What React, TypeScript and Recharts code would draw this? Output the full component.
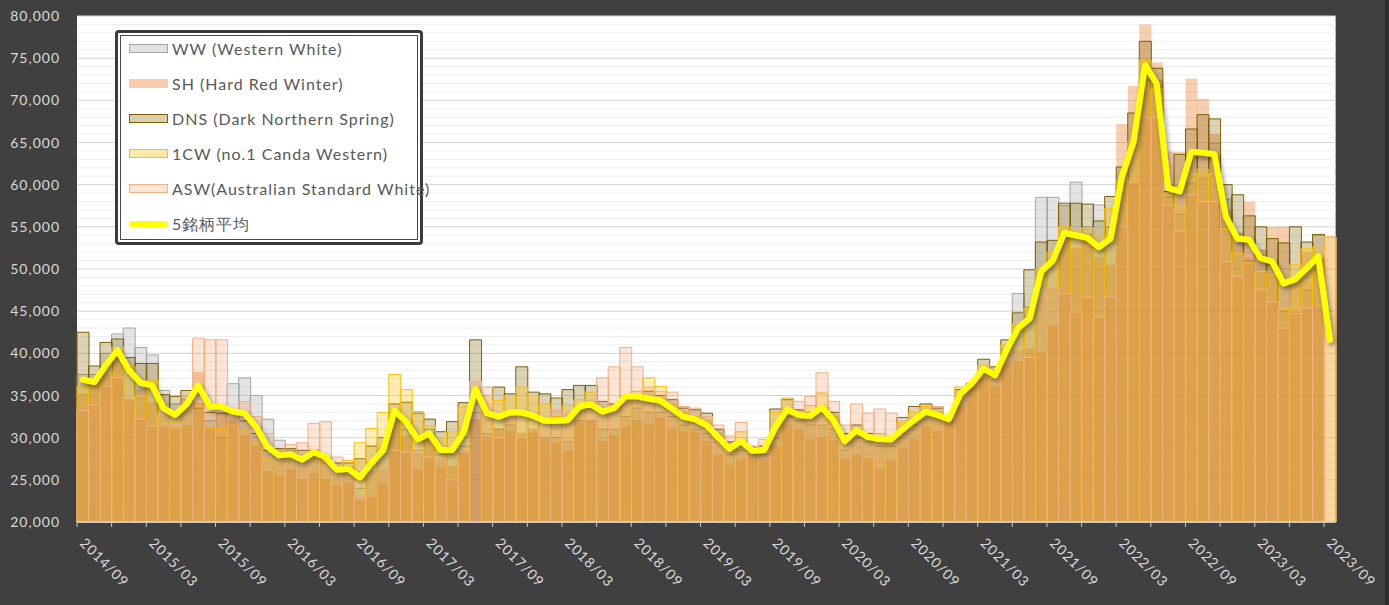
import React from 'react';
import { ComposedChart, Bar, Line, XAxis, YAxis, CartesianGrid } from 'recharts';

const MONTHS = [
  '2014/09','2014/10','2014/11','2014/12',
  '2015/01','2015/02','2015/03','2015/04','2015/05','2015/06','2015/07','2015/08','2015/09','2015/10','2015/11','2015/12',
  '2016/01','2016/02','2016/03','2016/04','2016/05','2016/06','2016/07','2016/08','2016/09','2016/10','2016/11','2016/12',
  '2017/01','2017/02','2017/03','2017/04','2017/05','2017/06','2017/07','2017/08','2017/09','2017/10','2017/11','2017/12',
  '2018/01','2018/02','2018/03','2018/04','2018/05','2018/06','2018/07','2018/08','2018/09','2018/10','2018/11','2018/12',
  '2019/01','2019/02','2019/03','2019/04','2019/05','2019/06','2019/07','2019/08','2019/09','2019/10','2019/11','2019/12',
  '2020/01','2020/02','2020/03','2020/04','2020/05','2020/06','2020/07','2020/08','2020/09','2020/10','2020/11','2020/12',
  '2021/01','2021/02','2021/03','2021/04','2021/05','2021/06','2021/07','2021/08','2021/09','2021/10','2021/11','2021/12',
  '2022/01','2022/02','2022/03','2022/04','2022/05','2022/06','2022/07','2022/08','2022/09','2022/10','2022/11','2022/12',
  '2023/01','2023/02','2023/03','2023/04','2023/05','2023/06','2023/07','2023/08','2023/09',
];

const WW = [
  37500,37500,40000,42300,43000,40700,39800,35600,34000,34500,34000,32000,30000,36400,37100,35000,
  32200,29700,28500,27500,28000,27000,26500,26500,24000,26000,28500,33000,31000,28500,31000,28000,
  28500,29000,33000,30500,31000,31500,30000,31000,30000,30000,29500,32000,32000,31000,31000,32500,
  33500,33000,33000,32500,31500,31000,30500,29500,28000,28500,28000,28000,30000,32500,32000,31500,
  31500,31000,28500,30000,29500,29000,29000,30500,31500,33000,32500,32000,35000,36450,38000,37500,
  40500,47100,45500,58500,58500,57500,60300,55000,57600,55000,60300,59800,72400,72300,58500,56500,
  60200,60700,64900,58300,54200,51000,52200,50500,45000,44800,47500,54000,null,
];
const SH = [
  35200,36600,37600,40200,34400,35800,34200,31300,31100,31500,37800,31000,33000,32100,30300,29000,
  26000,25600,26300,25100,25800,25100,24300,24700,22600,22900,24600,33000,30300,26200,30200,26550,
  26650,28200,32200,30000,31100,30800,30600,30600,29800,29500,28500,31800,31900,29600,30300,31300,
  32100,31650,32400,31100,30800,30700,29600,28000,26800,27500,27950,27450,29100,31550,30900,29800,
  30000,29700,27500,28000,27600,26350,27300,28800,29800,31300,30800,32000,33800,36450,37100,36100,
  38900,39100,40550,40100,43300,54100,52500,54200,51400,50500,67200,71700,79000,74500,63900,63900,
  72600,70200,66000,57000,54000,58000,52000,55000,55000,49000,52000,51100,null,
];
const DNS = [
  42500,38500,41300,41700,39500,38800,38800,35100,34900,35600,33500,33000,32900,33000,32000,30500,
  28500,28700,28700,28500,28500,27500,27000,27000,27500,29000,30000,34000,34200,32900,32200,30700,
  31900,34150,41600,33000,36000,35200,38400,35400,35200,34700,35700,36200,36200,34300,34000,35000,
  35000,35500,35000,34500,33500,33300,32900,31000,29500,29500,28800,29000,33400,34500,33300,33000,
  33500,33000,30500,31500,30500,30000,30000,32400,33700,34000,33500,32300,35700,36400,39300,38400,
  41600,44800,49900,53200,53400,57800,57800,57700,55700,58600,62100,68500,77000,73800,59200,63600,
  66600,68300,67800,60000,58800,56300,55000,53600,53100,55000,53200,54100,null,
];
const CW = [
  36100,36500,38000,40700,38400,35000,36800,32800,32000,33500,34000,31100,31100,31500,30800,29500,
  27500,27000,27500,26500,27500,27000,25500,27300,29400,31100,33000,37500,35700,33100,31400,30000,
  30700,33650,null,35000,34400,35000,36000,35000,34000,32500,33800,34500,35400,33500,33800,35000,
  35500,37100,36100,34000,33000,32500,32000,30500,29000,30700,28500,28500,33000,34700,33000,33800,
  35300,32500,30000,31000,30000,30500,29800,31800,33000,33700,33000,32500,36000,36400,38600,38000,
  41000,43500,45300,50000,52000,55000,54500,54900,54000,57200,60400,65100,74700,71400,58800,57500,
  61300,61800,61300,54800,51900,50700,49700,49300,45400,50500,52400,52600,53800,
];
const ASW = [
  33200,33900,36100,37100,34700,32200,31400,32700,31500,34900,41800,41600,41600,32500,34300,32500,
  30500,28500,29200,29400,31700,31900,27700,26000,23000,26000,26400,28500,28300,28300,27700,27500,
  25000,28500,36700,36000,30000,32500,30000,31000,31000,33300,33000,34000,34500,37100,38400,40700,
  38400,36000,35500,35400,33700,33500,32500,31500,30200,31800,29000,29800,31000,33500,34300,34900,
  37700,34300,31500,34000,32900,33400,32900,31500,32500,33500,33700,32200,35500,36500,38000,37000,
  40000,40500,39500,46700,47800,47100,44900,46700,44300,46700,55000,60400,67900,68000,57600,54500,
  58800,58000,58000,50900,49100,51500,47600,46100,43000,44700,45400,45700,53800,
];
const AVG = [
  36900,36600,38600,40400,38000,36500,36200,33500,32700,34000,36200,33700,33700,33100,32900,31300,
  28900,27900,28050,27400,28300,27700,26200,26300,25300,27000,28500,33200,31900,29800,30500,28550,
  28550,30700,35800,32900,32500,33000,33000,32600,32000,32000,32100,33700,34000,33100,33500,34900,
  34900,34650,34400,33500,32500,32200,31500,30100,28700,29600,28450,28550,31300,33350,32700,32600,
  33600,32100,29600,30900,30100,29850,29800,31000,32100,33100,32700,32200,35200,36450,38200,37400,
  40400,43000,44150,49700,51000,54300,54000,53700,52600,53600,61000,65100,74200,72000,59600,59200,
  63900,63800,63600,56200,53600,53500,51300,50900,48300,48800,50100,51500,41600,
];

const X_LABELS = [
  '2014/09','2015/03','2015/09','2016/03','2016/09','2017/03','2017/09','2018/03','2018/09','2019/03',
  '2019/09','2020/03','2020/09','2021/03','2021/09','2022/03','2022/09','2023/03','2023/09',
];
const Y_TICKS = [20000,25000,30000,35000,40000,45000,50000,55000,60000,65000,70000,75000,80000];
const Y_MINOR = [
  21000,22000,23000,24000,26000,27000,28000,29000,31000,32000,33000,34000,36000,37000,38000,39000,
  41000,42000,43000,44000,46000,47000,48000,49000,51000,52000,53000,54000,56000,57000,58000,59000,
  61000,62000,63000,64000,66000,67000,68000,69000,71000,72000,73000,74000,76000,77000,78000,79000,
];

const SERIES = [
  { key: 'ww', name: 'WW (Western White)', fill: '#a5a5a5', op: 0.3, stroke: '#a6a6a6', sw: '#e2e2e2' },
  { key: 'sh', name: 'SH (Hard Red Winter)', fill: '#ed7d31', op: 0.38, stroke: 'none', sw: '#f8cbad' },
  { key: 'dns', name: 'DNS (Dark Northern Spring)', fill: '#7f6000', op: 0.28, stroke: '#7f6000', sw: '#d9cfb2' },
  { key: 'cw', name: '1CW (no.1 Canda Western)', fill: '#ffc000', op: 0.28, stroke: '#ffc000', sw: '#ffe9a6' },
  { key: 'asw', name: 'ASW(Australian Standard White)', fill: '#ed7d31', op: 0.2, stroke: '#f4b183', sw: '#fbe5d6' },
];
const AVG_NAME = '5銘柄平均';

const DATA = MONTHS.map((m, i) => ({
  m, ww: WW[i], sh: SH[i], dns: DNS[i], cw: CW[i], asw: ASW[i], avg: AVG[i],
}));

const W = 1389;
const H = 605;
const PLOT_LEFT = 77;
const PLOT_TOP = 16;
const PLOT_RIGHT = 1335.6;
const PLOT_BOTTOM = 522;
const BAND = (PLOT_RIGHT - PLOT_LEFT) / MONTHS.length;
const FONT = 'Lato, "Open Sans", sans-serif';
const AXIS_TEXT = '#d9d9d9';

const fmt = (v: number) => v.toLocaleString('en-US');

const YTick = (props: any) => {
  const { x, y, payload } = props;
  return (
    <text x={x} y={y} dy={5} textAnchor="end" fill={AXIS_TEXT} fontSize={14} fontFamily={FONT} letterSpacing={1}>
      {fmt(payload.value)}
    </text>
  );
};

const XTick = (props: any) => {
  const { x, y, payload } = props;
  const half = typeof payload.offset === 'number' && payload.offset > 0 ? payload.offset : BAND / 2;
  const left = x - half;
  const mm = Number(String(payload.value).slice(5));
  const showLabel = X_LABELS.includes(payload.value);
  const tx = left + 2;
  const ty = y + 22;
  return (
    <g>
      {mm % 3 === 0 && <line x1={left} x2={left} y1={y} y2={y + 5} stroke="#c8c8c8" strokeWidth={1} />}
      {showLabel && (
        <text x={tx} y={ty} transform={`rotate(45, ${tx}, ${ty})`} textAnchor="start" fill={AXIS_TEXT}
          fontSize={14} fontFamily={FONT} letterSpacing={1}>
          {payload.value}
        </text>
      )}
    </g>
  );
};

const Legend = () => {
  const rowY = (i: number) => 48.5 + 35 * i;
  return (
    <div style={{
      position: 'absolute', left: 115, top: 30, width: 308, height: 215, boxSizing: 'border-box',
      border: '3px solid #3b3b3b', borderRadius: 4, background: '#ffffff',
    }}>
      <div style={{ position: 'absolute', left: 2, top: 2, right: 2, bottom: 2, border: '1px solid #4a4a4a' }} />
      {SERIES.map((s, i) => (
        <React.Fragment key={s.key}>
          <div style={{
            position: 'absolute', left: 129 - 118, top: rowY(i) - 4.5 - 33, width: 39, height: 9, boxSizing: 'border-box',
            background: s.sw, border: s.stroke === 'none' ? 'none' : `1.5px solid ${s.stroke}`,
          }} />
          <div style={{
            position: 'absolute', left: 172 - 118, top: rowY(i) - 10 - 33, height: 20, lineHeight: '20px',
            fontFamily: FONT, fontSize: 16, letterSpacing: 1, color: '#595959', whiteSpace: 'nowrap',
          }}>{s.name}</div>
        </React.Fragment>
      ))}
      <div style={{
        position: 'absolute', left: 129 - 118, top: rowY(5) - 3 - 33, width: 39, height: 6, borderRadius: 3, background: '#ffff00',
      }} />
      <div style={{
        position: 'absolute', left: 172 - 118, top: rowY(5) - 10 - 33, height: 20, lineHeight: '20px',
        fontFamily: FONT, fontSize: 16, letterSpacing: 1, color: '#595959', whiteSpace: 'nowrap',
      }}>{AVG_NAME}</div>
    </div>
  );
};

export default function App() {
  const axisIds = ['a', 'b', 'c', 'd', 'e'];
  return (
    <div style={{ position: 'absolute', left: 0, top: 0, width: W, height: H, background: '#404040', overflow: 'hidden' }}>
      <ComposedChart
        width={W}
        height={H}
        data={DATA}
        margin={{ top: PLOT_TOP, right: W - PLOT_RIGHT, bottom: 0, left: 0 }}
        barCategoryGap={0}
        barGap={0}
      >
        <defs>
          <filter id="lineShadow" filterUnits="userSpaceOnUse" x="0" y="0" width={W} height={H}>
            <feDropShadow dx="2" dy="3" stdDeviation="2.5" floodColor="#000000" floodOpacity="0.45" />
          </filter>
        </defs>
        <CartesianGrid yAxisId="y" xAxisId="a" vertical={false} horizontalValues={Y_MINOR} stroke="#eeeeee" fill="#ffffff" fillOpacity={1} />
        <CartesianGrid yAxisId="y" xAxisId="a" vertical={false} stroke="#d4d4d4" />
        <YAxis yAxisId="y" type="number" domain={[20000, 80000]} ticks={Y_TICKS} interval={0} allowDataOverflow
          width={PLOT_LEFT} axisLine={false} tickLine={false} tickSize={6} tickMargin={11} tick={<YTick />} />
        <XAxis xAxisId="a" dataKey="m" type="category" interval={0} height={H - PLOT_BOTTOM}
          axisLine={{ stroke: '#d9d9d9', strokeWidth: 1.5 }} tickLine={false} tickSize={0} tickMargin={0} tick={<XTick />} />
        {axisIds.slice(1).map((id) => (
          <XAxis key={id} xAxisId={id} dataKey="m" type="category" hide />
        ))}
        {SERIES.map((s, i) => (
          <Bar key={s.key} xAxisId={axisIds[i]} yAxisId="y" dataKey={s.key} name={s.name}
            fill={s.fill} fillOpacity={s.op} stroke={s.stroke} strokeWidth={s.stroke === 'none' ? 0 : 1}
            isAnimationActive={false} />
        ))}
        <Line xAxisId="a" yAxisId="y" dataKey="avg" name={AVG_NAME} type="linear" stroke="#ffff00" strokeWidth={6}
          strokeLinejoin="round" strokeLinecap="round" dot={false} activeDot={false} filter="url(#lineShadow)"
          isAnimationActive={false} />
      </ComposedChart>
      <Legend />
      <div style={{ position: 'absolute', left: 1385, top: 0, width: 4, height: H, background: '#2e2e2e' }} />
    </div>
  );
}
